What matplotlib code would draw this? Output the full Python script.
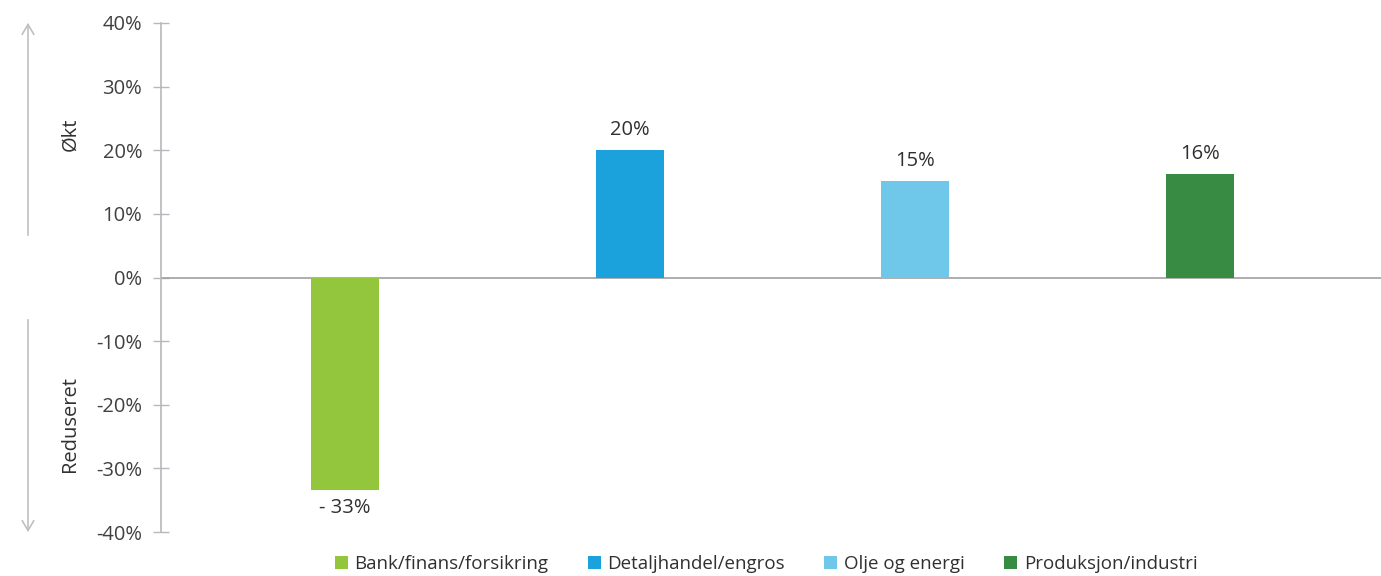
import matplotlib
matplotlib.use("Agg")
import matplotlib.pyplot as plt
from matplotlib.patches import FancyArrowPatch
from matplotlib.ticker import FuncFormatter

plt.rcParams['font.family'] = ['Open Sans', 'DejaVu Sans']

categories = ["Bank/finans/forsikring", "Detaljhandel/engros", "Olje og energi", "Produksjon/industri"]
values = [-33.4, 20.0, 15.1, 16.2]
labels = ["- 33%", "20%", "15%", "16%"]
colors = ["#93c63c", "#1ba1dc", "#6fc8ea", "#378b43"]
yticks = [-40, -30, -20, -10, 0, 10, 20, 30, 40]

FS = 14.5
LFS = 13.5
fig = plt.figure(figsize=(13.81, 5.76), dpi=100)
ax = fig.add_axes([161/1381, 44/576, 1 - 161/1381, (532-23)/576])

x = [0, 1, 2, 3]
bars = ax.bar(x, values, width=0.24, color=colors, label=categories, zorder=3)
ax.set_xlim(-0.645, 3.635)
ax.set_ylim(-40, 40)
ax.set_yticks(yticks)
ax.yaxis.set_major_formatter(FuncFormatter(lambda v, p: f"{int(v)}%"))
ax.set_xticks([])
ax.axhline(0, color="#a0a0a0", lw=1.2, zorder=2)

for s in ["top", "right", "bottom"]:
    ax.spines[s].set_visible(False)
ax.spines["left"].set_color("#b8b8bc")
ax.spines["left"].set_linewidth(1.2)
ax.tick_params(axis="y", direction="inout", length=12, width=1, color="#b8b8bc",
               labelsize=FS, labelcolor="#404040", pad=7.5)

for xi, v, lab in zip(x, values, labels):
    if v >= 0:
        ax.text(xi, v + 1.6, lab, ha="center", va="bottom", fontsize=FS, color="#303030")
    else:
        ax.text(xi, v - 1.3, lab, ha="center", va="top", fontsize=FS, color="#303030")

# side arrows
arrow_kw = dict(arrowstyle="->,head_length=0.6,head_width=0.35", color="#c0c0c0", lw=1.2)
fig.patches.append(FancyArrowPatch((28/1381, 1 - 238/576), (28/1381, 1 - 20/576),
                                   transform=fig.transFigure, mutation_scale=12, **arrow_kw))
fig.patches.append(FancyArrowPatch((28/1381, 1 - 317/576), (28/1381, 1 - 535/576),
                                   transform=fig.transFigure, mutation_scale=12, **arrow_kw))
fig.text(70/1381, 1 - 134/576, "Økt", rotation=90, ha="center", va="center", fontsize=FS, color="#303030")
fig.text(70/1381, 1 - 424/576, "Reduseret", rotation=90, ha="center", va="center", fontsize=FS, color="#303030")

leg = fig.legend(handles=bars, labels=categories, loc="center", bbox_to_anchor=(766/1381, 1 - 564/576),
                 ncol=4, frameon=False, fontsize=LFS, handlelength=0.7, handleheight=0.7,
                 handletextpad=0.35, columnspacing=2.1)
for t in leg.get_texts():
    t.set_color("#303030")

fig.savefig("out.png", dpi=100)
